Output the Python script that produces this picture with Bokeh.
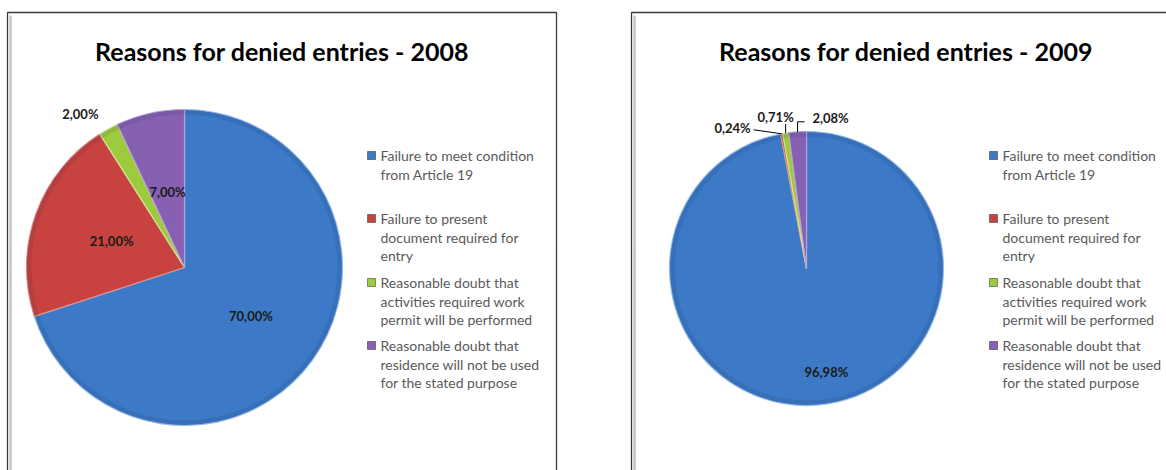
import math

from bokeh.core.properties import value
from bokeh.embed import file_html
from bokeh.models import ColumnDataSource, Range1d
from bokeh.plotting import figure
from bokeh.resources import INLINE

# ---- data -----------------------------------------------------------------
categories = [
    "Failure to meet condition from Article 19",
    "Failure to present document required for entry",
    "Reasonable doubt that activities required work permit will be performed",
    "Reasonable doubt that residence will not be used for the stated purpose",
]
legend_lines = [
    ["Failure to meet condition", "from Article 19"],
    ["Failure to present", "document required for", "entry"],
    ["Reasonable doubt that", "activities required work", "permit will be performed"],
    ["Reasonable doubt that", "residence will not be used", "for the stated purpose"],
]
years = ["2008", "2009"]
share_2008 = [70.00, 21.00, 2.00, 7.00]
share_2009 = [96.98, 0.24, 0.71, 2.08]
colors = ["#3c79c6", "#c8433f", "#9dcb3d", "#8661b3"]
edge_colors = ["#9cc2ee", "#e58b88", "#cde79a", "#b9a2d6"]

# ---- page layout (pixels, y measured downwards) ---------------------------
W, H = 1166, 470


def Y(y):
    return H - y


TITLE_FONT = "Lato"
BODY_FONT = "Lato"

panels = [
    dict(
        year=years[0], values=share_2008, left=7, right=556,
        cx=184, cy=267, r=158, legend_x=367,
        # per slice: ("in", radial fraction, dx, dy) or ("out", dx, dy, leader)
        labels=[
            ("in", 0.52, 0, 0),
            ("in", 0.49, 0, 0),
            ("out", -28, -15, None),
            ("in", 0.49, 0, 0),
        ],
    ),
    dict(
        year=years[1], values=share_2009, left=631, right=1180,
        cx=806, cy=268, r=137, legend_x=989,
        labels=[
            ("in", 0.76, 10, 0),
            ("out", -49, -6, [(0, 0), (-28, -4)]),
            ("out", -10, -16, [(0, 0), (0, -9)]),
            ("out", 33, -14, [(0, 0), (0, -10), (7, -10)]),
        ],
    ),
]

p = figure(
    width=W, height=H,
    x_range=Range1d(0, W), y_range=Range1d(0, H),
    x_axis_location=None, y_axis_location=None,
    toolbar_location=None, output_backend="svg",
    min_border=0, outline_line_color=None,
    background_fill_color="white", border_fill_color="white",
)
p.grid.visible = False


def fmt_pct(v):
    return f"{v:.2f}%".replace(".", ",")


for panel in panels:
    left, right = panel["left"], panel["right"]
    cx, cy, r = panel["cx"], panel["cy"], panel["r"]

    # chart-area frame: open at the bottom, soft grey shade along the left edge
    p.line([left + 3, left + 3], [Y(15), Y(480)], line_color="#c4c4c4", line_width=2.5)
    p.line([left, left, right, right], [Y(480), Y(12), Y(12), Y(480)],
           line_color="#3a3a3a", line_width=1.3)

    # title
    p.text(x=[(left + right) / 2], y=[Y(50)],
           text=[f"Reasons for denied entries - {panel['year']}"],
           text_font=value(TITLE_FONT), text_font_style="bold",
           text_font_size="25px", text_color="black",
           text_align="center", text_baseline="alphabetic")

    # pie slices, clockwise from twelve o'clock
    vals = panel["values"]
    total = sum(vals)
    cum = [0.0]
    for v in vals:
        cum.append(cum[-1] + v / total)
    starts = [math.pi / 2 - 2 * math.pi * c for c in cum[:-1]]
    ends = [math.pi / 2 - 2 * math.pi * c for c in cum[1:]]
    mids = [(a + b) / 2 for a, b in zip(starts, ends)]

    src = ColumnDataSource(dict(
        x=[cx] * len(vals), y=[Y(cy)] * len(vals),
        start=starts, end=ends, color=colors, edge=edge_colors,
    ))
    p.wedge(x="x", y="y", radius=r, start_angle="start", end_angle="end",
            direction="clock", fill_color="color", line_color="edge",
            line_width=1.2, source=src)
    # darker rim for the bevelled look
    p.annulus(x=[cx], y=[Y(cy)], inner_radius=r - 5, outer_radius=r,
              fill_color="#102040", fill_alpha=0.10, line_color=None)

    # data labels
    lx, ly, ltext = [], [], []
    for v, ang, spec in zip(vals, mids, panel["labels"]):
        ex, ey = cx + r * math.cos(ang), cy - r * math.sin(ang)
        if spec[0] == "in":
            frac, dx, dy = spec[1], spec[2], spec[3]
            px = cx + frac * r * math.cos(ang) + dx
            py = cy - frac * r * math.sin(ang) + dy
        else:
            dx, dy, leader = spec[1], spec[2], spec[3]
            px, py = ex + dx, ey + dy
            if leader:
                p.line([ex + a for a, _ in leader], [Y(ey + b) for _, b in leader],
                       line_color="black", line_width=1)
        lx.append(px)
        ly.append(Y(py))
        ltext.append(fmt_pct(v))
    p.text(x=lx, y=ly, text=ltext, text_font=value(BODY_FONT),
           text_font_style="bold", text_font_size="13px", text_color="#1a1a1a",
           text_align="center", text_baseline="middle")

    # legend
    group_top = [155, 218, 282, 345]
    line_h = 18.7
    mx = panel["legend_x"]
    p.rect(x=[mx + 4] * len(colors), y=[Y(t) for t in group_top],
           width=8, height=8, fill_color=colors, line_color="#404040",
           line_width=0.6)
    tx, ty, tt = [], [], []
    for top, lines in zip(group_top, legend_lines):
        for i, line in enumerate(lines):
            tx.append(mx + 13)
            ty.append(Y(top + i * line_h))
            tt.append(line)
    p.text(x=tx, y=ty, text=tt, text_font=value(BODY_FONT),
           text_font_size="14px", text_color="#5a5a5a",
           text_align="left", text_baseline="middle")

open("out.html", "w").write(file_html(p, INLINE))
